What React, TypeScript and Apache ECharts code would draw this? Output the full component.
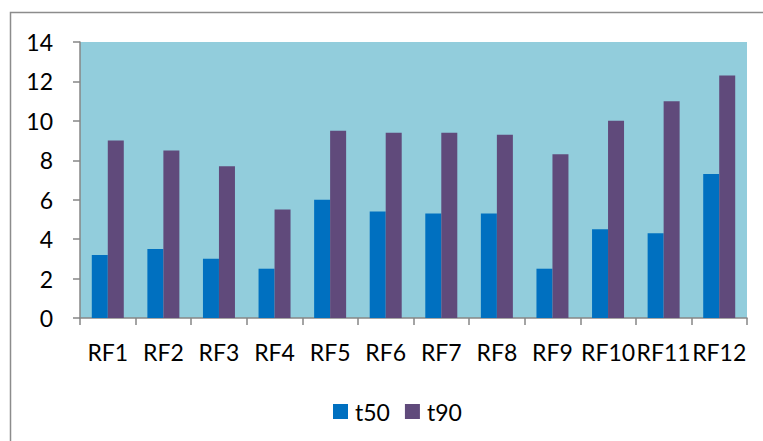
import React, { useEffect, useRef } from "react";
import * as echarts from "echarts";

const categories = ["RF1", "RF2", "RF3", "RF4", "RF5", "RF6", "RF7", "RF8", "RF9", "RF10", "RF11", "RF12"];
const t50 = [3.2, 3.5, 3.0, 2.5, 6.0, 5.4, 5.3, 5.3, 2.5, 4.5, 4.3, 7.3];
const t90 = [9.0, 8.5, 7.7, 5.5, 9.5, 9.4, 9.4, 9.3, 8.3, 10.0, 11.0, 12.3];

const FONT = "Lato, 'Open Sans', sans-serif";

export default function App() {
  const ref = useRef<HTMLDivElement>(null);
  useEffect(() => {
    if (!ref.current) return;
    const chart = echarts.init(ref.current, undefined, { renderer: "svg" });
    chart.setOption({
      animation: false,
      backgroundColor: "#ffffff",
      graphic: [
        {
          type: "rect",
          shape: { x: 10.5, y: 12.5, width: 760, height: 440 },
          style: { fill: "none", stroke: "#8c8c8c", lineWidth: 1.5 },
          silent: true,
        },
      ],
      grid: { left: 80, right: 16, top: 42, bottom: 123, backgroundColor: "#92CDDC", show: true, borderWidth: 0 },
      legend: {
        top: 395,
        left: 328,
        itemWidth: 15,
        itemHeight: 15,
        itemGap: 15,
        icon: "rect",
        textStyle: { fontFamily: FONT, fontSize: 23, color: "#000", padding: [0, 0, 0, 2] },
        data: ["t50", "t90"],
      },
      xAxis: {
        type: "category",
        data: categories,
        axisLine: { lineStyle: { color: "#868686", width: 1.5 } },
        axisTick: { show: true, alignWithLabel: false, length: 7, lineStyle: { color: "#868686", width: 1.5 } },
        axisLabel: { fontFamily: FONT, fontSize: 23, color: "#000", margin: 22, interval: 0 },
      },
      yAxis: {
        type: "value",
        min: 0,
        max: 14,
        interval: 2,
        axisLine: { show: true, lineStyle: { color: "#868686", width: 1.5 } },
        axisTick: { show: true, length: 7, lineStyle: { color: "#868686", width: 1.5 } },
        splitLine: { show: false },
        axisLabel: { fontFamily: FONT, fontSize: 23, color: "#000", margin: 27 },
      },
      series: [
        { name: "t50", type: "bar", data: t50, itemStyle: { color: "#0070C0" }, barWidth: 16, barGap: "0%" },
        { name: "t90", type: "bar", data: t90, itemStyle: { color: "#604A7B" }, barWidth: 16, barGap: "0%" },
      ],
    });
    return () => chart.dispose();
  }, []);
  return <div ref={ref} style={{ position: "fixed", left: 0, top: 0, width: 763, height: 441 }} />;
}
